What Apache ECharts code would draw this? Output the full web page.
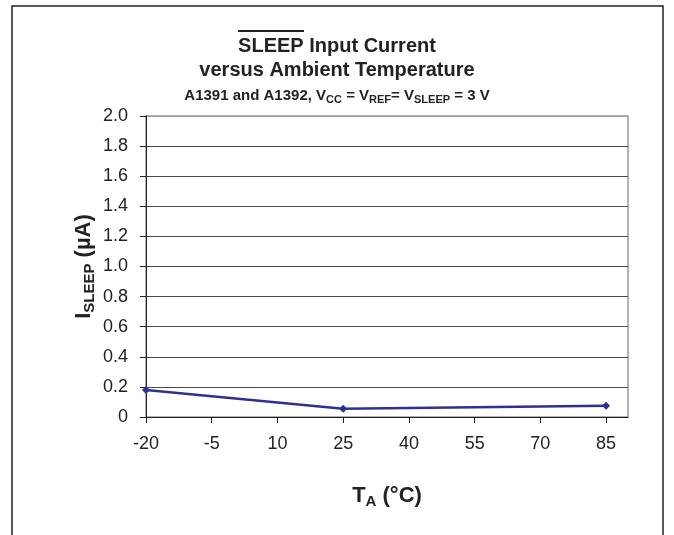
<!DOCTYPE html>
<html>
<head>
<meta charset="utf-8">
<script src="https://cdn.jsdelivr.net/npm/echarts@6/dist/echarts.min.js"></script>
<style>html,body{margin:0;padding:0;background:#fff;}#c{width:674px;height:535px;}</style>
</head>
<body>
<div id="c"></div>
<script>
var temps = [-20, 25, 85];
var current = [0.18, 0.055, 0.075];
var xTicks = [-20, -5, 10, 25, 40, 55, 70, 85];
var yTicks = [0, 0.2, 0.4, 0.6, 0.8, 1.0, 1.2, 1.4, 1.6, 1.8, 2.0];

var chart = echarts.init(document.getElementById('c'));
var F = '"Liberation Sans", Arial, sans-serif';
var splitColors = [];
for (var i = 0; i < yTicks.length - 1; i++) splitColors.push('#4a4a4a');
splitColors.push('#9a9a9a');

chart.setOption({
  animation: false,
  backgroundColor: '#fff',
  title: [
    {
      text: 'SLEEP Input Current\nversus Ambient Temperature',
      left: 'center', top: 29,
      textStyle: {fontFamily: F, fontWeight: 'bold', fontSize: 20, color: '#222', lineHeight: 24}
    },
    {
      text: '{m|A1391 and A1392, V}{s|CC}{m| = V}{s|REF}{m|= V}{s|SLEEP}{m| = 3 V}',
      left: 'center', top: 81,
      textStyle: {
        rich: {
          m: {fontFamily: F, fontWeight: 'bold', fontSize: 15, color: '#222'},
          s: {fontFamily: F, fontWeight: 'bold', fontSize: 11, color: '#222', padding: [8, 0, 0, 0]}
        }
      }
    }
  ],
  graphic: [
    {type: 'rect', shape: {x: 12, y: 6, width: 651, height: 560}, style: {fill: 'none', stroke: '#222', lineWidth: 1.5}, silent: true},
    {type: 'line', shape: {x1: 238, y1: 31, x2: 304, y2: 31}, style: {stroke: '#222', lineWidth: 2}, silent: true}
  ],
  grid: {left: 146, right: 46, top: 116, bottom: 118, show: true, borderColor: '#9a9a9a', borderWidth: 1.5},
  xAxis: {
    type: 'value', min: -20, max: 90,
    name: '{m|T}{s|A}{m| (°C)}',
    nameLocation: 'middle', nameGap: 66,
    nameTextStyle: {
      rich: {
        m: {fontFamily: F, fontWeight: 'bold', fontSize: 22, color: '#222'},
        s: {fontFamily: F, fontWeight: 'bold', fontSize: 15, color: '#222', padding: [11, 0, 0, 0]}
      }
    },
    axisLine: {show: true, onZero: false, lineStyle: {color: '#222', width: 1}},
    axisTick: {show: true, length: 6, customValues: xTicks, lineStyle: {color: '#222'}},
    axisLabel: {customValues: xTicks, margin: 18, fontFamily: F, fontSize: 18, color: '#222'},
    splitLine: {show: false}
  },
  yAxis: {
    type: 'value', min: 0, max: 2.0, interval: 0.2,
    name: '{m|I}{s|SLEEP}{m| (µA)}',
    nameLocation: 'middle', nameGap: 49, nameRotate: 90, nameMoveOverlap: false,
    nameTextStyle: {
      rich: {
        m: {fontFamily: F, fontWeight: 'bold', fontSize: 22, color: '#222'},
        s: {fontFamily: F, fontWeight: 'bold', fontSize: 15, color: '#222', padding: [11, 0, 0, 0]}
      }
    },
    axisLine: {show: true, onZero: false, lineStyle: {color: '#222', width: 1}},
    axisTick: {show: true, length: 6, lineStyle: {color: '#222'}},
    axisLabel: {
      margin: 18, fontFamily: F, fontSize: 18, color: '#222',
      formatter: function (v) { return v === 0 ? '0' : v.toFixed(1); }
    },
    splitLine: {show: true, lineStyle: {color: splitColors, width: 1}}
  },
  series: [{
    type: 'line',
    data: temps.map(function (t, i) { return [t, current[i]]; }),
    symbol: 'diamond', symbolSize: 8,
    lineStyle: {color: '#2e3192', width: 2.5},
    itemStyle: {color: '#2e3192'}
  }]
});
</script>
</body>
</html>
